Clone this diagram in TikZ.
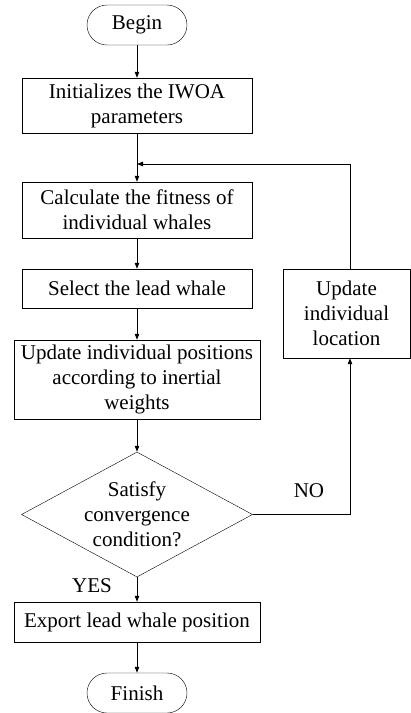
\documentclass[tikz,border=0pt]{standalone}
\usepackage{fontspec}
\setmainfont{Liberation Serif}
\usetikzlibrary{arrows.meta,shapes.geometric}

\begin{document}
\begin{tikzpicture}[x=1pt,y=-1pt,
    font=\fontsize{21}{25}\selectfont,
    terminal/.style ={draw, rounded corners=20pt, minimum width=100pt, minimum height=40pt, inner sep=0pt},
    process/.style ={draw, align=center, inner sep=0pt},
    decision/.style ={diamond, draw, align=center, inner sep=0pt, minimum width=231pt, minimum height=125pt, aspect=1.85},
    flow/.style ={-{Triangle[length=6pt,width=4.5pt]}, line width=0.8pt}]
   \useasboundingbox (0,0) rectangle (411,713);
   \node[terminal] (begin) at (137,25) {Begin};
   \node[process, minimum width=230pt, minimum height=55pt] (init) at (137,105.5) {Initializes the IWOA\\parameters};
   \node[process, minimum width=230pt, minimum height=56pt] (fit) at (137,210) {Calculate the fitness of\\individual whales};
   \node[process, minimum width=230pt, minimum height=39pt] (lead) at (137,288.5) {Select the lead whale};
   \node[process, minimum width=246pt, minimum height=79pt] (pos) at (137,379.5) {Update individual positions\\according to inertial\\weights};
   \node[decision] (conv) at (137,514.5) {Satisfy\\convergence\\condition?};
   \node[process, minimum width=246pt, minimum height=40pt] (export) at (137,622) {Export lead whale position};
   \node[terminal] (finish) at (137,693) {Finish};
   \node[process, minimum width=127pt, minimum height=89pt] (loc) at (346.5,313.5) {Update\\individual\\location};
   \coordinate (join) at (137,164);
   \coordinate (turn) at (350,164);
   \coordinate (corner) at (350,514.5);
   \node (no) at (309,491) {NO};
   \node (yes) at (92,586) {YES};

   \draw[flow] (begin) -- (init);
   \draw[flow] (init) -- (fit);
   \draw[flow] (fit) -- (lead);
   \draw[flow] (lead) -- (pos);
   \draw[flow] (pos) -- (conv);
   \draw[flow] (conv) -- (export);
   \draw[flow] (export) -- (finish);
   \draw[flow] (conv.east) -- (corner) -- (loc.south -| corner);
   \draw[flow] (loc.north -| turn) -- (turn) -- (join);
 \end{tikzpicture}
\end{document}
